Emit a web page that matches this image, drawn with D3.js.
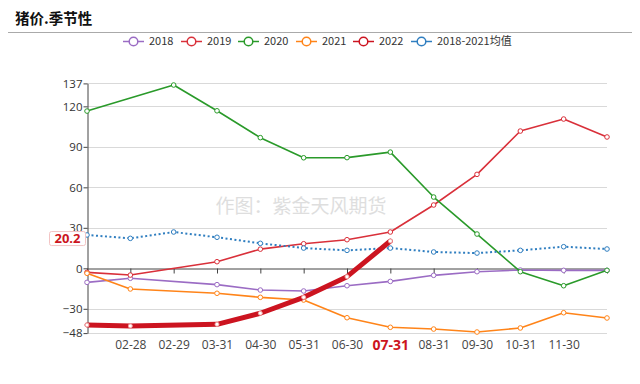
<!DOCTYPE html>
<html><head><meta charset="utf-8">
<script src="https://cdn.jsdelivr.net/npm/d3@7"></script>
<style>body{margin:0;background:#fff;}svg{display:block;font-family:"Noto Sans CJK SC","Noto Sans",sans-serif;}</style>
</head><body>
<svg id="c" width="640" height="384"></svg>
<script>
const categories = ["01-31","02-28","02-29","03-31","04-30","05-31","06-30","07-31","08-31","09-30","10-31","11-30","12-31"];
const yTicks = [-48,-30,0,30,60,90,120,137];
const s2018 = [-10.4,-7.4,null,-12.1,-16.1,-16.8,-12.9,-9.7,-5.2,-2.5,-1.3,-1.5,-1.5];
const s2019 = [-3,-5,null,4.9,14.2,18.2,21.2,26.9,46.9,69.6,101.7,110.6,97.3];
const s2020 = [116.5,null,135.8,116.7,96.8,81.9,82,86.1,52.8,25.4,-2.5,-12.9,-1.5];
const s2021 = [-3.7,-15.3,null,-18.5,-21.5,-23.5,-36.6,-43.7,-45,-47.2,-44.2,-32.9,-36.8];
const s2022 = [-42,-42.7,null,-41.5,-33.3,-21.5,-6.2,20.2,null,null,null,null,null];
const sAvg = [24.7,22.2,26.9,23,18.5,15,13.3,15,12.1,11.3,13.3,16,14.3];
const seriesNames = ["2018","2019","2020","2021","2022","2018-2021均值"];
const seriesColors = ["#9b6cc4","#d9303a","#2a9a2a","#ff8419","#cc1420","#2f7ec0"];

const svg = d3.select("#c");
const x = d3.scalePoint().domain(categories).range([87,607]);
const y = d3.scaleLinear().domain([-48,137]).range([333.1,83.4]);

// title
svg.append("text").attr("x",15).attr("y",24).attr("font-size",14.5).attr("font-weight","bold")
  .attr("fill","#111").text("猪价.季节性");
svg.append("line").attr("x1",8).attr("x2",632).attr("y1",32.5).attr("y2",32.5).attr("stroke","#aaa").attr("stroke-width",1);

// grid
yTicks.forEach(t=>{
  if(t===0) return;
  svg.append("line").attr("x1",87).attr("x2",607).attr("y1",Math.round(y(t))+0.5).attr("y2",Math.round(y(t))+0.5)
    .attr("stroke","#d9d9d9").attr("stroke-width",1);
});

// watermark
svg.append("text").attr("x",301).attr("y",213).attr("text-anchor","middle").attr("font-size",19)
  .attr("fill","#dedede").text("作图：紫金天风期货");

// y axis
const yAxis = d3.axisLeft(y).tickValues(yTicks).tickSize(4).tickSizeOuter(0);
const ga = svg.append("g").attr("transform","translate(87.5,0)").call(yAxis);
ga.select(".domain").attr("stroke","#444");
ga.selectAll(".tick line").attr("stroke","#444");
ga.selectAll(".tick text").attr("font-size",11.5).attr("fill","#333").attr("x",-5)
  .attr("font-family","'Open Sans','Noto Sans',sans-serif");

// x axis at zero
const y0 = Math.round(y(0))+0.5;
const xAxis = d3.axisBottom(x).tickSize(5).tickSizeOuter(0);
const gx = svg.append("g").attr("transform",`translate(0,${y0})`).call(xAxis);
gx.select(".domain").attr("stroke","#444");
gx.selectAll(".tick line").attr("stroke","#444");
gx.selectAll(".tick text").attr("y",345-y0).attr("dy","0.35em").attr("font-size",12).attr("fill","#444")
  .attr("font-family","'Open Sans','Noto Sans',sans-serif")
  .style("display",(d,i)=> (i===0||i===categories.length-1)?"none":null)
  .attr("fill",d=> d==="07-31"?"#cc1420":"#444")
  .attr("font-weight",d=> d==="07-31"?"bold":null)
  .attr("font-size",d=> d==="07-31"?14:12);

// series
const allSeries = [s2018,s2019,s2020,s2021,sAvg,s2022];
const order = [0,1,2,3,5,4];
const line = d3.line().defined(d=>d.v!==null).x(d=>x(d.c)).y(d=>y(d.v));
order.forEach((si,k)=>{
  const vals = allSeries[k];
  const pts = categories.map((c,i)=>({c,v:vals[i]})).filter(d=>d.v!==null);
  const col = seriesColors[si];
  const isAvg = si===5, is22 = si===4;
  svg.append("path").datum(pts).attr("d",line).attr("fill","none").attr("stroke",col)
    .attr("stroke-width", is22?5:(isAvg?2:1.6))
    .attr("stroke-dasharray", isAvg?"2,2.5":null)
    .attr("stroke-linejoin","round").attr("stroke-linecap", is22?"round":"butt");
  svg.selectAll(null).data(pts).enter().append("circle")
    .attr("cx",d=>x(d.c)).attr("cy",d=>y(d.v)).attr("r", is22?2:2.3)
    .attr("fill","#fff").attr("stroke", is22?"#f0a0a0":col).attr("stroke-width",1);
});

// value label
const lastV = s2022[7];
const lg = svg.append("g");
lg.append("rect").attr("x",49.5).attr("y",y(lastV)-9.5).attr("width",36).attr("height",14).attr("rx",2)
  .attr("fill","#fff").attr("stroke","#f3c4c4");
lg.append("text").attr("x",67.5).attr("y",y(lastV)-2.5).attr("dy","0.35em").attr("text-anchor","middle")
  .attr("font-size",13).attr("font-weight","bold").attr("fill","#cc1420")
  .attr("font-family","'Open Sans','Noto Sans',sans-serif").text(d3.format(".1f")(lastV));

// legend
const legX = [123,181,238,296,353,411];
seriesNames.forEach((n,i)=>{
  const g = svg.append("g").attr("transform",`translate(${legX[i]},41.5)`);
  g.append("line").attr("x1",0).attr("x2",21).attr("stroke",seriesColors[i]).attr("stroke-width",1.5);
  g.append("circle").attr("cx",10.5).attr("r",4.3).attr("fill","#fff").attr("stroke",seriesColors[i]).attr("stroke-width",1.5);
  g.append("text").attr("x",26).attr("dy","0.35em").attr("font-size",11).attr("fill","#333").text(n);
});
</script>
</body></html>
